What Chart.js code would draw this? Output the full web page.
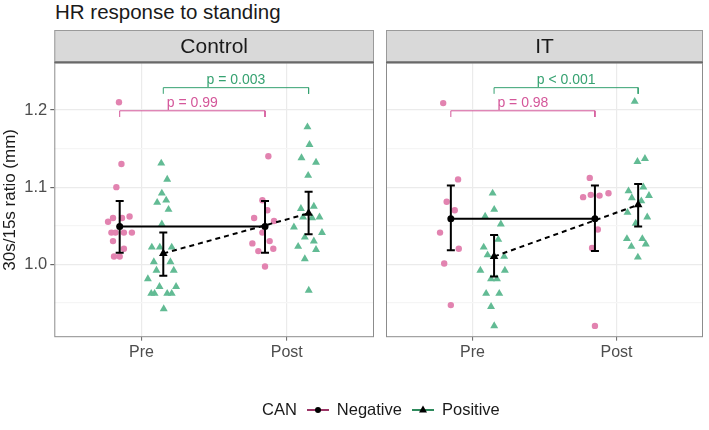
<!DOCTYPE html>
<html>
<head>
<meta charset="utf-8">
<script src="https://cdn.jsdelivr.net/npm/chart.js@4.4.0/dist/chart.umd.min.js"></script>
<style>
  body { margin: 0; background: #fff; font-family: "Liberation Sans", Arial, sans-serif; }
  #wrap { position: relative; width: 709px; height: 430px; overflow: hidden; }
  canvas { position: absolute; top: 0; }
  #title { position: absolute; left: 55px; top: 0px; font-size: 20.5px; color: #1a1a1a; }
  #legend { position: absolute; left: 262px; top: 400px; display: flex; align-items: center; font-size: 16.5px; color: #1a1a1a; white-space: nowrap; }
  #legend svg { margin: 0 8px 0 10px; }
</style>
</head>
<body>
<div id="wrap">
  <div id="title">HR response to standing</div>
  <canvas id="control" width="380" height="430" style="left:0"></canvas>
  <canvas id="it" width="329" height="430" style="left:380px"></canvas>
  <div id="legend">
    <span>CAN</span>
    <svg width="22" height="12"><line x1="0" y1="6" x2="22" y2="6" stroke="#9b3566" stroke-width="2"/><circle cx="11" cy="6" r="3" fill="#000"/></svg>
    <span>Negative</span>
    <svg width="22" height="12"><line x1="0" y1="6" x2="22" y2="6" stroke="#2e8a5c" stroke-width="2"/><polygon points="11,1.5 15,8.5 7,8.5" fill="#000"/></svg>
    <span>Positive</span>
  </div>
</div>
<script>
// x: 1 = Pre, 2 = Post (jittered positions)
const timeLabels = ['Pre', 'Post'];

// Control panel - raw points
const controlNegX = [0.845, 0.862, 0.827, 0.804, 0.770, 0.866, 0.918, 0.793, 0.821, 0.879, 0.934, 0.804, 0.879, 0.811, 0.850,
                     1.873, 1.832, 1.866, 1.775, 1.912, 1.832, 1.763, 1.882, 1.804, 1.907, 1.850];
const controlNegY = [1.210, 1.130, 1.100, 1.060, 1.055, 1.060, 1.062, 1.041, 1.041, 1.041, 1.041, 1.030, 1.020, 1.010, 1.010,
                     1.140, 1.083, 1.070, 1.060, 1.056, 1.041, 1.027, 1.030, 1.017, 1.020, 0.997];
const controlPosX = [1.136, 1.177, 1.140, 1.108, 1.170, 1.186, 1.140, 1.071, 1.126, 1.208, 1.085, 1.199, 1.103, 1.222, 1.044, 1.124, 1.238, 1.067, 1.090, 1.177, 1.208, 1.153,
                     2.142, 2.156, 2.101, 2.201, 2.147, 2.097, 2.186, 2.112, 2.225, 2.174, 2.049, 2.242, 2.124, 2.186, 2.078, 2.201, 2.124, 2.151];
const controlPosY = [1.131, 1.110, 1.092, 1.080, 1.083, 1.071, 1.052, 1.022, 1.022, 1.022, 1.003, 1.003, 0.992, 0.992, 0.981, 0.971, 0.971, 0.962, 0.962, 0.962, 0.962, 0.942,
                     1.178, 1.155, 1.138, 1.132, 1.115, 1.072, 1.075, 1.061, 1.061, 1.060, 1.048, 1.041, 1.035, 1.030, 1.023, 1.019, 1.007, 0.966];

// IT panel - raw points
const itNegX = [0.797, 0.900, 0.821, 0.877, 0.775, 0.905, 0.804, 0.850,
                1.814, 1.768, 1.821, 1.882, 1.944, 1.870, 1.830, 1.850];
const itNegY = [1.209, 1.110, 1.081, 1.070, 1.041, 1.020, 1.001, 0.947,
                1.112, 1.087, 1.090, 1.089, 1.092, 1.045, 1.021, 0.920];
const itPosX = [1.140, 1.151, 1.088, 1.197, 1.179, 1.078, 1.105, 1.220, 1.055, 1.225, 1.129, 1.170, 1.095, 1.186, 1.129, 1.151,
                2.126, 2.145, 2.197, 2.083, 2.186, 2.106, 2.225, 2.172, 2.076, 2.213, 2.133, 2.072, 2.179, 2.103, 2.203, 2.148];
const itPosY = [1.092, 1.071, 1.062, 1.052, 1.032, 1.022, 1.012, 1.010, 0.992, 0.992, 0.981, 0.981, 0.962, 0.962, 0.945, 0.920,
                1.211, 1.133, 1.137, 1.095, 1.100, 1.086, 1.089, 1.082, 1.067, 1.061, 1.053, 1.033, 1.033, 1.023, 1.026, 1.009];

// group means with error bars [Pre, Post]
const controlNegMean = [1.049, 1.049], controlNegLow = [1.015, 1.015], controlNegHigh = [1.082, 1.082];
const controlPosMean = [1.014, 1.066], controlPosLow = [0.985, 1.039], controlPosHigh = [1.041, 1.094];
const itNegMean = [1.059, 1.059], itNegLow = [1.018, 1.017], itNegHigh = [1.102, 1.102];
const itPosMean = [1.010, 1.077], itPosLow = [0.984, 1.049], itPosHigh = [1.038, 1.104];

// Pre vs Post comparisons [Negative, Positive]
const controlPValues = ['p = 0.99', 'p = 0.003'];
const itPValues = ['p = 0.98', 'p < 0.001'];
const bracketY = [1.199, 1.229];

const yTicks = [0.95, 1.0, 1.05, 1.1, 1.15, 1.2];
const dodge = 0.15;
const negColor = '#e283b0', posColor = '#62bb94';
const negDark = '#d4579a', posDark = '#36a271';

Chart.defaults.font.family = '"Liberation Sans", Arial, sans-serif';

const isMajor = v => Math.abs(v * 10 - Math.round(v * 10)) < 1e-6;

function errBar(x, lo, hi) {
    return {
        data: [{x: x, y: lo}, {x: x, y: hi}],
        showLine: true, borderColor: '#000', borderWidth: 2,
        pointStyle: 'line', pointRadius: 4, pointBorderColor: '#000', pointBorderWidth: 2,
        order: 2
    };
}

function bracket(x1, x2, y, color) {
    const tip = y - 0.008;
    return {
        data: [{x: x1, y: tip}, {x: x1, y: y}, {x: x2, y: y}, {x: x2, y: tip}],
        showLine: true, borderColor: color, borderWidth: 1, pointRadius: 0, order: 3
    };
}

// strip, panel frame and p-value labels
const panelDecor = {
    id: 'panelDecor',
    beforeDraw(chart, args, opts) {
        const {ctx, chartArea: a} = chart;
        ctx.save();
        ctx.fillStyle = '#d9d9d9';
        ctx.fillRect(a.left, 30, a.right - a.left, 32);
        ctx.strokeStyle = '#9a9a9a';
        ctx.lineWidth = 1;
        ctx.strokeRect(a.left + 0.5, 30.5, a.right - a.left - 1, 31);
        ctx.fillStyle = '#1a1a1a';
        ctx.font = '21px "Liberation Sans", Arial, sans-serif';
        ctx.textAlign = 'center';
        ctx.textBaseline = 'middle';
        ctx.fillText(opts.label, (a.left + a.right) / 2, 47);
        ctx.restore();
    },
    afterDraw(chart, args, opts) {
        const {ctx, chartArea: a, scales} = chart;
        ctx.save();
        ctx.strokeStyle = '#444';
        ctx.lineWidth = 1.5;
        ctx.beginPath();
        ctx.moveTo(a.left, a.top - 0.5);
        ctx.lineTo(a.right, a.top - 0.5);
        ctx.stroke();
        ctx.strokeStyle = '#8c8c8c';
        ctx.lineWidth = 1;
        ctx.strokeRect(a.left + 0.5, a.top, a.right - a.left - 1, a.bottom - a.top);
        ctx.font = '14px "Liberation Sans", Arial, sans-serif';
        ctx.textAlign = 'center';
        ctx.textBaseline = 'bottom';
        [[-dodge, negDark], [dodge, posDark]].forEach(([off, col], i) => {
            const x = scales.x.getPixelForValue(1.5 + off);
            const y = scales.y.getPixelForValue(bracketY[i]);
            ctx.fillStyle = col;
            ctx.fillText(opts.pValues[i], x, y - 0.5);
        });
        ctx.restore();
    }
};

function makeChart(id, d) {
    const datasets = [
        {
            data: d.negMean.map((m, i) => ({x: i + 1 - dodge, y: m})),
            showLine: true, borderColor: '#000', borderWidth: 2,
            pointStyle: 'circle', pointRadius: 3.5, pointBackgroundColor: '#000', pointBorderWidth: 0,
            order: 1
        },
        {
            data: d.posMean.map((m, i) => ({x: i + 1 + dodge, y: m})),
            showLine: true, borderColor: '#000', borderWidth: 2, borderDash: [5, 4],
            pointStyle: 'triangle', pointRadius: 5, pointBackgroundColor: '#000', pointBorderWidth: 0,
            order: 1
        },
        ...d.negMean.map((m, i) => errBar(i + 1 - dodge, d.negLow[i], d.negHigh[i])),
        ...d.posMean.map((m, i) => errBar(i + 1 + dodge, d.posLow[i], d.posHigh[i])),
        bracket(1 - dodge, 2 - dodge, bracketY[0], negDark),
        bracket(1 + dodge, 2 + dodge, bracketY[1], posDark),
        {
            data: d.negX.map((x, i) => ({x: x, y: d.negY[i]})),
            pointStyle: 'circle', pointRadius: 3.2, backgroundColor: negColor, borderWidth: 0,
            order: 5
        },
        {
            data: d.posX.map((x, i) => ({x: x, y: d.posY[i]})),
            pointStyle: 'triangle', pointRadius: 4.6, backgroundColor: posColor, borderWidth: 0,
            order: 5
        }
    ];

    new Chart(document.getElementById(id), {
        type: 'scatter',
        data: {datasets: datasets},
        plugins: [panelDecor],
        options: {
            responsive: false,
            animation: false,
            devicePixelRatio: 1,
            layout: {padding: d.padding},
            plugins: {
                legend: {display: false},
                tooltip: {enabled: false},
                panelDecor: {label: d.label, pValues: d.pValues}
            },
            scales: {
                x: {
                    type: 'linear', min: 0.4, max: 2.6,
                    afterBuildTicks: s => { s.ticks = [{value: 1}, {value: 2}]; },
                    afterFit: s => { s.height = 30; },
                    ticks: {
                        callback: v => timeLabels[v - 1],
                        color: '#4d4d4d', font: {size: 16}, padding: 2, maxRotation: 0
                    },
                    grid: {color: '#ebebeb', lineWidth: 1.2, tickLength: 4, tickColor: '#666', tickWidth: 1},
                    border: {display: false}
                },
                y: {
                    min: 0.906, max: 1.261,
                    afterBuildTicks: s => { s.ticks = yTicks.map(v => ({value: v})); },
                    afterFit: s => { s.width = d.yWidth; },
                    ticks: {
                        display: d.showY,
                        callback: v => isMajor(v) ? v.toFixed(1) : '',
                        color: '#4d4d4d', font: {size: 16.5}, padding: 3
                    },
                    title: {
                        display: d.showY, text: '30s/15s ratio (mm)',
                        color: '#1a1a1a', font: {size: 17}, padding: {top: 0, bottom: 4}
                    },
                    grid: {
                        color: c => (c.tick && isMajor(c.tick.value)) ? '#ebebeb' : '#f5f5f5',
                        lineWidth: 1.2,
                        drawTicks: d.showY, tickLength: 4,
                        tickColor: c => (c.tick && isMajor(c.tick.value)) ? '#666' : 'rgba(0,0,0,0)'
                    },
                    border: {display: false}
                }
            }
        }
    });
}

makeChart('control', {
    label: 'Control', pValues: controlPValues,
    negX: controlNegX, negY: controlNegY, posX: controlPosX, posY: controlPosY,
    negMean: controlNegMean, negLow: controlNegLow, negHigh: controlNegHigh,
    posMean: controlPosMean, posLow: controlPosLow, posHigh: controlPosHigh,
    showY: true, yWidth: 54.3,
    padding: {top: 63, bottom: 63.3, left: 0, right: 4.5}
});

makeChart('it', {
    label: 'IT', pValues: itPValues,
    negX: itNegX, negY: itNegY, posX: itPosX, posY: itPosY,
    negMean: itNegMean, negLow: itNegLow, negHigh: itNegHigh,
    posMean: itPosMean, posLow: itPosLow, posHigh: itPosHigh,
    showY: false, yWidth: 0,
    padding: {top: 63, bottom: 63.3, left: 5.3, right: 6}
});
</script>
</body>
</html>
